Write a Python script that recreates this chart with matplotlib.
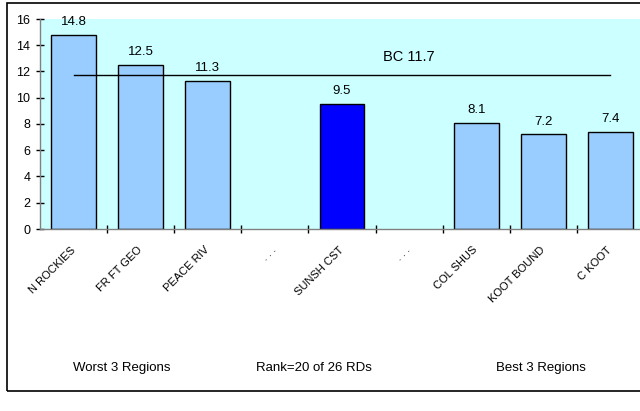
import numpy as np
import matplotlib.pyplot as plt
from matplotlib.patches import Rectangle

plt.rcParams['font.family'] = ['Liberation Sans', 'DejaVu Sans']

# data
regions = ["N ROCKIES", "FR FT GEO", "PEACE RIV", ". . .", "SUNSH CST", ". . .",
           "COL SHUS", "KOOT BOUND", "C KOOT"]
values = [14.8, 12.5, 11.3, np.nan, 9.5, np.nan, 8.1, 7.2, 7.4]
bc_value = 11.7
bc_line = [bc_value] * len(regions)
highlight = "SUNSH CST"
bottom_notes = ["Worst 3 Regions", "Rank=20 of 26 RDs", "Best 3 Regions"]

fig = plt.figure(figsize=(6.4, 4.11), dpi=100)
ax = fig.add_axes([40 / 640, 1 - 229 / 411, 604 / 640, 210 / 411])
ax.set_facecolor("#CCFFFF")

x = np.arange(len(regions))
colors = ["#0000FF" if r == highlight else "#99CCFF" for r in regions]
ax.bar(x, values, width=0.67, color=colors, edgecolor="black", linewidth=1, zorder=2)

for xi, v in zip(x, values):
    if not np.isnan(v):
        ax.annotate(f"{v:.1f}", (xi, v), xytext=(0, 5), textcoords="offset points",
                    ha="center", va="bottom", fontsize=9.5)

ax.plot(x, bc_line, color="black", linewidth=1, zorder=3)
ax.text(5, 13.1, f"BC {bc_value}", ha="center", va="center", fontsize=10.5)

ax.set_xlim(-0.5, len(regions) - 0.5)
ax.set_ylim(0, 16)
ax.set_yticks(range(0, 17, 2))
ax.tick_params(axis="y", direction="inout", length=6, width=1, labelsize=9, pad=4)

ax.set_xticks(np.arange(len(regions)) + 0.5)
ax.set_xticklabels([])
ax.tick_params(axis="x", which="major", direction="inout", length=6, width=1)
ax.set_xticks(x, minor=True)
ax.set_xticklabels(regions, minor=True, rotation=45, ha="right",
                   rotation_mode="anchor", va="center", fontsize=8)
ax.tick_params(axis="x", which="minor", length=0, pad=14)

for s in ["top", "right"]:
    ax.spines[s].set_visible(False)
for s in ["left", "bottom"]:
    ax.spines[s].set_color("#808080")
    ax.spines[s].set_linewidth(1)

# notes under the chart
note_x = [122, 314, 541]
for nx, txt in zip(note_x, bottom_notes):
    fig.text(nx / 640, 1 - 368 / 411, txt, ha="center", va="center", fontsize=9.5)

# outer border
fig.patches.append(Rectangle((7 / 640, 1 - 391 / 411), 1.0, (391 - 3) / 411,
                             transform=fig.transFigure, fill=False,
                             edgecolor="black", linewidth=1.2))

fig.savefig("out.png", dpi=100)
